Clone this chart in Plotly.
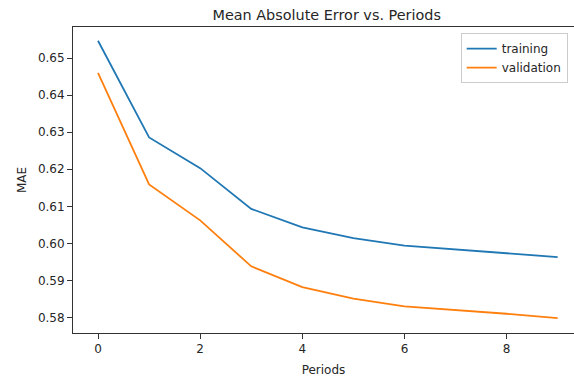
import plotly.graph_objects as go

periods = list(range(10))
training_mae = [0.6547, 0.6286, 0.6203, 0.6093, 0.6043, 0.6014, 0.5994, 0.5984, 0.5974, 0.5963]
validation_mae = [0.6460, 0.6159, 0.6062, 0.5938, 0.5882, 0.5851, 0.5830, 0.5821, 0.5810, 0.5798]
y_ticks = [0.58, 0.59, 0.60, 0.61, 0.62, 0.63, 0.64, 0.65]
x_ticks = [0, 2, 4, 6, 8]

FONT = "DejaVu Sans"
TXT = "#262626"
AX = "#333333"

fig = go.Figure()
fig.add_trace(go.Scatter(x=periods, y=training_mae, mode="lines", name="training",
                         line=dict(color="#1f77b4", width=1.8)))
fig.add_trace(go.Scatter(x=periods, y=validation_mae, mode="lines", name="validation",
                         line=dict(color="#ff7f0e", width=1.8)))

fig.update_layout(
    width=574, height=379,
    margin=dict(l=73, r=0, t=27, b=46),
    paper_bgcolor="white", plot_bgcolor="white",
    font=dict(family=FONT, size=12, color=TXT),
    title=dict(text="Mean Absolute Error vs. Periods", x=(326.7) / 574, xanchor="center",
               y=1 - 14.5 / 379, yanchor="middle", font=dict(size=14.4, color=TXT)),
    legend=dict(x=0.9874, xanchor="right", y=0.98, yanchor="top",
                bgcolor="rgba(255,255,255,0.8)", bordercolor="#cccccc", borderwidth=1,
                font=dict(size=12, color=TXT), tracegroupgap=0, itemwidth=30),
    showlegend=True,
)
fig.update_xaxes(
    range=[-0.49, 9.32], tickvals=x_ticks, ticks="outside", ticklen=5, tickwidth=1,
    tickcolor=AX, showline=True, linecolor=AX, linewidth=1, mirror=True,
    showgrid=False, zeroline=False,
    title=dict(text="Periods", font=dict(size=12, color=TXT), standoff=10),
)
fig.update_yaxes(
    range=[0.5758, 0.6584], tickvals=y_ticks, tickformat=".2f", ticks="outside", ticklen=5,
    tickwidth=1, tickcolor=AX, showline=True, linecolor=AX, linewidth=1, mirror=False,
    showgrid=False, zeroline=False,
    title=dict(text="MAE", font=dict(size=12, color=TXT), standoff=8),
)

fig.write_html("out.html")
